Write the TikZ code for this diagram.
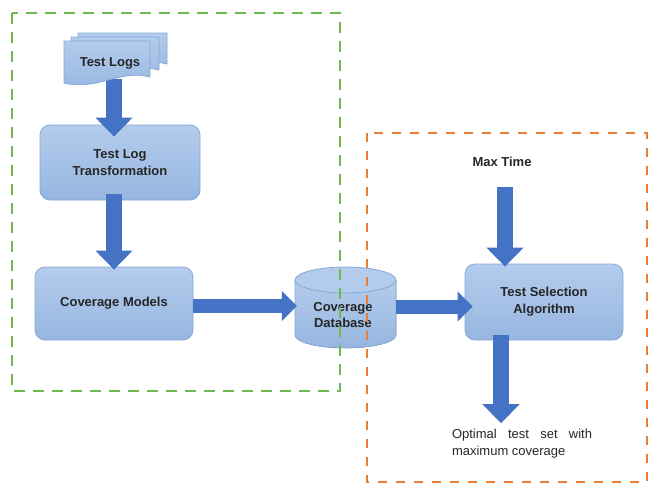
\documentclass[tikz,border=0pt]{standalone}
\usepackage{fontspec}
\setmainfont{Liberation Sans}
\usetikzlibrary{arrows.meta}
\definecolor{boxtop}{RGB}{180,204,236}
\definecolor{boxbot}{RGB}{150,182,224}
\definecolor{boxline}{RGB}{135,168,212}
\definecolor{arrowblue}{RGB}{68,114,196}
\definecolor{txt}{RGB}{38,38,38}
\definecolor{dgreen}{RGB}{112,184,80}
\definecolor{dorange}{RGB}{237,125,49}
\tikzset{
  procbox/.style={draw=boxline, line width=0.8pt, rounded corners=10pt,
    top color=boxtop, bottom color=boxbot, text=txt, align=center,
    font=\bfseries\fontsize{13}{17}\selectfont, inner sep=0pt},
  lbl/.style={text=txt, inner sep=0pt, align=center},
  vbig/.style={draw=arrowblue, line width=16pt,
    -{Triangle[width=36pt,length=19pt]}, arrowblue},
  hbig/.style={draw=arrowblue, line width=14pt,
    -{Triangle[width=29pt,length=15pt]}, arrowblue},
  docfill/.style={draw=boxline, line width=0.8pt, top color=boxtop, bottom color=boxbot},
  greenframe/.style={draw=dgreen, line width=2.6pt, dash pattern=on 11pt off 8pt},
  orangeframe/.style={draw=dorange, line width=2.6pt, dash pattern=on 9pt off 9pt}
}
\begin{document}
\begin{tikzpicture}[x=1pt,y=-1pt]
\useasboundingbox (0,0) rectangle (651,485);
% boxes
\node[procbox, minimum width=160pt, minimum height=75pt] (tlt) at (120,162.5) {Test Log\\Transformation};
\node[procbox, minimum width=158pt, minimum height=73pt] (cm) at (114,303.5) {Coverage Models};
\node[procbox, minimum width=158pt, minimum height=76pt] (tsa) at (544,302) {Test Selection\\Algorithm};
% cylinder
\fill[top color=boxtop, bottom color=boxbot] (295,280) -- (295,335) arc[start angle=180, end angle=360, x radius=50.5pt, y radius=13pt] -- (396,280) -- cycle;
\draw[boxline, line width=0.8pt] (295,280) -- (295,335) arc[start angle=180, end angle=360, x radius=50.5pt, y radius=13pt] -- (396,280);
\draw[boxline, line width=0.8pt, fill=boxtop] (345.5,280) ellipse [x radius=50.5pt, y radius=13pt];
\node[minimum width=101pt, minimum height=81pt, inner sep=0pt] (db) at (345.5,307.5) {};
\node[lbl, font=\bfseries\fontsize{13}{16}\selectfont] (dbt) at (343,315) {Coverage\\Database};
% text nodes
\node[lbl, font=\bfseries\fontsize{13}{15}\selectfont] (logs) at (110,63) {Test Logs};
\node[lbl, font=\bfseries\fontsize{13}{15}\selectfont] (maxt) at (502,162) {Max Time};
\node[text=txt, inner sep=0pt, text width=140pt, align=justify, font=\fontsize{13}{17}\selectfont] (out) at (522,444) {Optimal test set with\linebreak maximum coverage};
% arrow from logs (under documents)
\draw[vbig, shorten >=-12pt] (logs.south -| cm.north) ++(0,10) -- (tlt.north -| cm.north);
% documents stack
\path[docfill] (78,33) -- (167,33) -- (167,64) .. controls (136,56) and (114,78) .. (78,70) -- cycle;
\path[docfill] (71,37) -- (159,37) -- (159,70) .. controls (128,62) and (106,84) .. (71,76) -- cycle;
\path[docfill] (64,41) -- (150,41) -- (150,77) .. controls (120,69) and (98,91) .. (64,83) -- cycle;
\node[lbl, font=\bfseries\fontsize{13}{15}\selectfont] at (logs) {Test Logs};
% other arrows
\draw[vbig, shorten <=-6pt, shorten >=-3pt] (tlt.south -| cm.north) -- (cm.north);
\draw[hbig, shorten >=-2pt] ([yshift=-2.5pt]cm.east) -- ([yshift=-2.5pt]cm.east -| db.west);
\draw[hbig, shorten >=-8pt] ([yshift=-4.5pt]tsa.west -| db.east) -- ([yshift=-4.5pt]tsa.west);
\draw[vbig, shorten <=20pt, shorten >=-3pt] ([xshift=3pt]maxt.south) -- ([xshift=3pt]maxt.south |- tsa.north);
\draw[vbig, shorten <=-5pt, shorten >=6pt] ([xshift=-43pt]tsa.south) -- ([xshift=-43pt]tsa.south |- out.north);
% dashed frames
\draw[greenframe] (12,13) rectangle (340,391);
\draw[orangeframe] (367,133) rectangle (647,482);
\end{tikzpicture}
\end{document}
